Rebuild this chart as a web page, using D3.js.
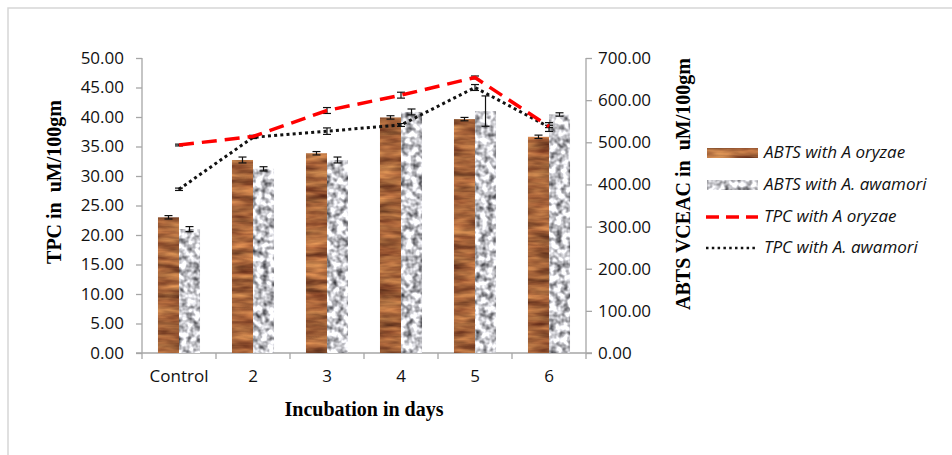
<!doctype html>
<html lang="en">
<head>
    <meta charset="UTF-8">
    <title>D3: TPC and ABTS by incubation day</title>
    <script type="text/javascript" src="https://cdn.jsdelivr.net/npm/d3@7"></script>
    <style type="text/css">
        body {
            margin: 0;
            background-color: #ffffff;
        }

        .tick text {
            font-family: "Open Sans", sans-serif;
            font-size: 17px;
            fill: #111;
        }

        .axis-title {
            font-family: "Liberation Serif", "Times New Roman", serif;
            font-weight: bold;
            font-size: 20px;
            fill: #000;
            white-space: pre;
        }

        .legend text {
            font-family: "Open Sans", sans-serif;
            font-style: italic;
            font-size: 17px;
            fill: #111;
        }
    </style>
</head>
<body>

<script type="text/javascript">
    var w = 952;
    var h = 455;

    // data
    var categories = ["Control", "2", "3", "4", "5", "6"];
    var abtsOryzae = [322, 458, 474, 559, 555, 513];
    var abtsOryzaeErr = [4, 7, 4, 4, 4, 4];
    var abtsAwamori = [294, 437, 458, 572, 574, 566];
    var abtsAwamoriErr = [6, 5, 7, 7, 36, 4];
    var tpcOryzae = [35.25, 36.7, 41.1, 43.7, 46.7, 38.4];
    var tpcOryzaeErr = [0.15, 0.2, 0.5, 0.5, 0.25, 0.2];
    var tpcAwamori = [27.75, 36.55, 37.6, 38.65, 45.0, 38.3];
    var tpcAwamoriErr = [0.2, 0.2, 0.55, 0.25, 0.5, 0.75];
    var leftTicks = [0, 5, 10, 15, 20, 25, 30, 35, 40, 45, 50];
    var rightTicks = [0, 100, 200, 300, 400, 500, 600, 700];
    var legendLabels = ["ABTS with A oryzae", "ABTS with A. awamori", "TPC with A oryzae", "TPC with A. awamori"];

    var plotLeft = 142, plotRight = 586, plotTop = 58, plotBottom = 353;
    var axisColor = "#a6a6a6";

    var svg = d3.select("body").append("svg").attr("width", w).attr("height", h);

    // textures for the bars
    var defs = svg.append("defs");
    var wood = defs.append("filter").attr("id", "wood")
        .attr("color-interpolation-filters", "sRGB")
        .attr("x", "-5%").attr("y", "-5%").attr("width", "110%").attr("height", "110%");
    wood.append("feTurbulence").attr("type", "fractalNoise")
        .attr("baseFrequency", "0.03 0.14").attr("numOctaves", 3).attr("seed", 7);
    wood.append("feColorMatrix").attr("type", "matrix")
        .attr("values", "0.75 0.1 0 0 0.22  0.6 0 0 0 0.09  0.35 0 0 0 0.05  0 0 0 0 1");
    wood.append("feComposite").attr("operator", "in").attr("in2", "SourceGraphic");

    var granite = defs.append("filter").attr("id", "granite")
        .attr("color-interpolation-filters", "sRGB")
        .attr("x", "-5%").attr("y", "-5%").attr("width", "110%").attr("height", "110%");
    granite.append("feTurbulence").attr("type", "fractalNoise")
        .attr("baseFrequency", "0.16").attr("numOctaves", 2).attr("seed", 3);
    granite.append("feColorMatrix").attr("type", "matrix")
        .attr("values", "1.5 0 0 0 0.04  1.5 0 0 0 0.04  1.5 0 0 0 0.06  0 0 0 0 1");
    granite.append("feComposite").attr("operator", "in").attr("in2", "SourceGraphic");

    // outer frame
    svg.append("rect").attr("x", 8).attr("y", 8).attr("width", 980).attr("height", 480)
        .attr("fill", "none").attr("stroke", "#d6d6d6").attr("stroke-width", 1.5);

    var x0 = d3.scaleBand().domain(categories).range([plotLeft, plotRight]);
    var x1 = d3.scaleBand().domain(["oryzae", "awamori"]).range([0, x0.bandwidth()]).paddingOuter(0.76);
    var yLeft = d3.scaleLinear().domain([0, 50]).range([plotBottom, plotTop]);
    var yRight = d3.scaleLinear().domain([0, 700]).range([plotBottom, plotTop]);

    // axes
    var gl = svg.append("g").attr("transform", "translate(" + plotLeft + ",0)")
        .call(d3.axisLeft(yLeft).tickValues(leftTicks).tickFormat(d3.format(".2f")).tickSize(6).tickPadding(12));
    var gr = svg.append("g").attr("transform", "translate(" + plotRight + ",0)")
        .call(d3.axisRight(yRight).tickValues(rightTicks).tickFormat(d3.format(".2f")).tickSize(6).tickPadding(6));
    var gb = svg.append("g").attr("transform", "translate(0," + plotBottom + ")")
        .call(d3.axisBottom(x0).tickSize(0).tickPadding(17));
    gb.selectAll(".tick")
        .append("line")
        .attr("x1", -x0.bandwidth() / 2).attr("x2", -x0.bandwidth() / 2)
        .attr("y1", 0).attr("y2", 6);
    gb.append("line")
        .attr("x1", x0.range()[1]).attr("x2", x0.range()[1])
        .attr("y1", 0).attr("y2", 6);
    [gl, gr, gb].forEach(function (g) {
        g.selectAll("path, line").attr("stroke", axisColor).attr("stroke-width", 1.3);
        g.select(".domain").remove();
    });
    svg.append("line").attr("x1", plotLeft).attr("x2", plotLeft).attr("y1", plotTop).attr("y2", plotBottom)
        .attr("stroke", axisColor).attr("stroke-width", 1.3);
    svg.append("line").attr("x1", plotRight).attr("x2", plotRight).attr("y1", plotTop).attr("y2", plotBottom)
        .attr("stroke", axisColor).attr("stroke-width", 1.3);
    svg.append("line").attr("x1", plotLeft - 6).attr("x2", plotRight + 6).attr("y1", plotBottom).attr("y2", plotBottom)
        .attr("stroke", axisColor).attr("stroke-width", 1.3);

    // bars
    var barSets = [
        {key: "oryzae", values: abtsOryzae, err: abtsOryzaeErr, filter: "url(#wood)"},
        {key: "awamori", values: abtsAwamori, err: abtsAwamoriErr, filter: "url(#granite)"}
    ];
    barSets.forEach(function (s) {
        svg.append("g").selectAll("rect")
            .data(s.values)
            .enter()
            .append("rect")
            .attr("x", function (d, i) {
                return x0(categories[i]) + x1(s.key);
            })
            .attr("y", function (d) {
                return yRight(d);
            })
            .attr("width", x1.bandwidth())
            .attr("height", function (d) {
                return plotBottom - yRight(d);
            })
            .attr("fill", "#000")
            .attr("filter", s.filter);
    });

    function errorBars(xs, vals, errs, scale) {
        var g = svg.append("g").attr("stroke", "#111").attr("stroke-width", 1.2);
        vals.forEach(function (v, i) {
            var x = xs(i), y1 = scale(v + errs[i]), y2 = scale(v - errs[i]);
            g.append("line").attr("x1", x).attr("x2", x).attr("y1", y1).attr("y2", y2);
            g.append("line").attr("x1", x - 4).attr("x2", x + 4).attr("y1", y1).attr("y2", y1);
            g.append("line").attr("x1", x - 4).attr("x2", x + 4).attr("y1", y2).attr("y2", y2);
        });
    }

    barSets.forEach(function (s) {
        errorBars(function (i) {
            return x0(categories[i]) + x1(s.key) + x1.bandwidth() / 2;
        }, s.values, s.err, yRight);
    });

    // lines
    var cx = function (i) {
        return x0(categories[i]) + x0.bandwidth() / 2;
    };
    var line = d3.line()
        .x(function (d, i) {
            return cx(i);
        })
        .y(function (d) {
            return yLeft(d);
        });

    errorBars(cx, tpcAwamori, tpcAwamoriErr, yLeft);
    svg.append("path").datum(tpcAwamori)
        .attr("d", line)
        .attr("fill", "none")
        .attr("stroke", "#111")
        .attr("stroke-width", 3)
        .attr("stroke-dasharray", "3,3.2");

    errorBars(cx, tpcOryzae, tpcOryzaeErr, yLeft);
    svg.append("path").datum(tpcOryzae)
        .attr("d", line)
        .attr("fill", "none")
        .attr("stroke", "#ff0000")
        .attr("stroke-width", 3.5)
        .attr("stroke-dasharray", "15,8");

    // axis titles
    svg.append("text").attr("class", "axis-title")
        .attr("transform", "translate(56,182) rotate(-90)")
        .attr("text-anchor", "middle").attr("dominant-baseline", "middle")
        .text("TPC in  uM/100gm");
    svg.append("text").attr("class", "axis-title")
        .attr("transform", "translate(685,184) rotate(-90)")
        .attr("text-anchor", "middle").attr("dominant-baseline", "middle")
        .text("ABTS VCEAC in  uM/100gm");
    svg.append("text").attr("class", "axis-title")
        .attr("x", (plotLeft + plotRight) / 2).attr("y", 416)
        .attr("text-anchor", "middle")
        .text("Incubation in days");

    // legend
    var legendY = [153, 185, 217, 248];
    var lg = svg.append("g").attr("class", "legend");
    lg.append("rect").attr("x", 707).attr("y", legendY[0] - 5).attr("width", 51).attr("height", 10)
        .attr("fill", "#000").attr("filter", "url(#wood)");
    lg.append("rect").attr("x", 707).attr("y", legendY[1] - 5).attr("width", 51).attr("height", 10)
        .attr("fill", "#000").attr("filter", "url(#granite)");
    lg.append("line").attr("x1", 706).attr("x2", 758).attr("y1", legendY[2]).attr("y2", legendY[2])
        .attr("stroke", "#ff0000").attr("stroke-width", 3.5).attr("stroke-dasharray", "13,7");
    lg.append("line").attr("x1", 706).attr("x2", 758).attr("y1", legendY[3]).attr("y2", legendY[3])
        .attr("stroke", "#111").attr("stroke-width", 2.5).attr("stroke-dasharray", "2.5,3.3");
    lg.selectAll("text")
        .data(legendLabels)
        .enter()
        .append("text")
        .attr("x", 764)
        .attr("y", function (d, i) {
            return legendY[i];
        })
        .attr("dominant-baseline", "middle")
        .text(function (d) {
            return d;
        });
</script>

</body>
</html>
